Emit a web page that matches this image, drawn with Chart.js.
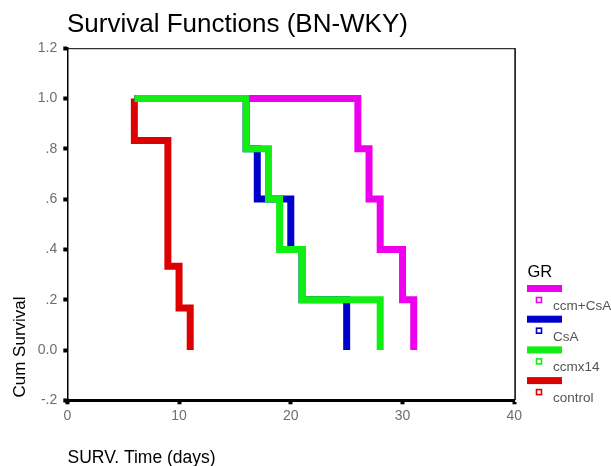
<!DOCTYPE html>
<html>
<head>
<meta charset="utf-8">
<script src="https://cdn.jsdelivr.net/npm/chart.js@4.4.1/dist/chart.umd.min.js"></script>
<style>
  html, body { margin: 0; padding: 0; background: #ffffff; }
  #wrap { width: 611px; height: 466px; position: relative; }
</style>
</head>
<body>
<div id="wrap"><canvas id="c" width="611" height="466"></canvas></div>
<script>
// ---- data ----
const chartTitle = 'Survival Functions (BN-WKY)';
const xAxisTitle = 'SURV. Time (days)';
const yAxisTitle = 'Cum Survival';
const legendTitle = 'GR';

const groups = ['ccm+CsA', 'CsA', 'ccmx14', 'control'];
const groupColors = ['#ee00ee', '#0000cc', '#11ee11', '#dd0000'];

const ccmCsaTimes = [6, 26, 27, 28, 30, 31];
const ccmCsaSurv  = [1.0, 0.8, 0.6, 0.4, 0.2, 0.0];

const csaTimes = [6, 16, 17, 20, 21, 25];
const csaSurv  = [1.0, 0.8, 0.6, 0.4, 0.2, 0.0];

const ccmx14Times = [6, 16, 18, 19, 21, 28];
const ccmx14Surv  = [1.0, 0.8, 0.6, 0.4, 0.2, 0.0];

const controlTimes = [6, 6, 9, 10, 11];
const controlSurv  = [1.0, 0.833, 0.333, 0.167, 0.0];

const xTickValues = [0, 10, 20, 30, 40];
const xTickLabels = ['0', '10', '20', '30', '40'];
const yTickValues = [-0.2, 0, 0.2, 0.4, 0.6, 0.8, 1.0, 1.2];
const yTickLabels = ['-.2', '0.0', '.2', '.4', '.6', '.8', '1.0', '1.2'];

// ---- build ----
function pts(t, s) { return t.map((v, i) => ({ x: v, y: s[i] })); }
const seriesTimes = [ccmCsaTimes, csaTimes, ccmx14Times, controlTimes];
const seriesSurv = [ccmCsaSurv, csaSurv, ccmx14Surv, controlSurv];
const drawOrder = [2, 1, 0, 3]; // lower = drawn on top

const FONT = '"Liberation Sans", Arial, sans-serif';

const datasets = groups.map((g, i) => ({
  label: g,
  data: pts(seriesTimes[i], seriesSurv[i]),
  borderColor: groupColors[i],
  backgroundColor: groupColors[i],
  borderWidth: 7,
  stepped: true,
  pointRadius: 0,
  fill: false,
  borderJoinStyle: 'miter',
  borderCapStyle: 'butt',
  order: drawOrder[i]
}));

const decorPlugin = {
  id: 'decor',
  afterDraw(chart) {
    const ctx = chart.ctx;
    const a = chart.chartArea;
    ctx.save();
    // top and right frame
    ctx.strokeStyle = '#000';
    ctx.lineWidth = 1;
    ctx.beginPath();
    ctx.moveTo(a.left, a.top + 0.5);
    ctx.lineTo(a.right + 1, a.top + 0.5);
    ctx.stroke();
    ctx.lineWidth = 1.5;
    ctx.beginPath();
    ctx.moveTo(a.right + 0.8, a.top);
    ctx.lineTo(a.right + 0.8, a.bottom);
    ctx.stroke();

    // title
    ctx.fillStyle = '#000';
    ctx.font = '26px ' + FONT;
    ctx.textAlign = 'left';
    ctx.textBaseline = 'alphabetic';
    ctx.fillText(chartTitle, 67, 31.7);

    // x axis title
    ctx.font = '17.5px ' + FONT;
    ctx.fillText(xAxisTitle, 67.5, 463);

    // y axis title
    ctx.save();
    ctx.translate(24.5, 397.5);
    ctx.rotate(-Math.PI / 2);
    ctx.font = '17px ' + FONT;
    ctx.fillText(yAxisTitle, 0, 0);
    ctx.restore();

    // legend
    ctx.font = '16.5px ' + FONT;
    ctx.fillStyle = '#000';
    ctx.fillText(legendTitle, 527.5, 277);
    const barTop = 288.5, step = 30.7;
    groups.forEach((g, i) => {
      const by = barTop + i * step;
      ctx.fillStyle = groupColors[i];
      ctx.fillRect(527, by - 3.5, 35, 7);
      const my = by + 11.5;
      ctx.strokeStyle = groupColors[i];
      ctx.lineWidth = 1.6;
      ctx.strokeRect(536.5, my - 2.5, 5, 5);
      ctx.fillStyle = '#555';
      ctx.font = '13.5px ' + FONT;
      ctx.fillText(g, 553, my + 10);
    });
    ctx.restore();
  }
};

new Chart(document.getElementById('c'), {
  type: 'line',
  data: { datasets },
  plugins: [decorPlugin],
  options: {
    responsive: false,
    animation: false,
    events: [],
    layout: { padding: { left: 0, right: 611 - 514.3, top: 48.2, bottom: 0 } },
    plugins: { legend: { display: false }, tooltip: { enabled: false }, title: { display: false } },
    scales: {
      x: {
        type: 'linear',
        min: 0, max: 40,
        afterFit(s) { s.height = 466 - 400.3; },
        afterBuildTicks(s) { s.ticks = xTickValues.map(v => ({ value: v })); },
        ticks: {
          callback: (v, i) => xTickLabels[i],
          color: '#6e6e6e',
          font: { family: FONT, size: 14 },
          padding: 3,
          maxRotation: 0
        },
        grid: { drawOnChartArea: false, drawTicks: true, tickLength: 4, tickWidth: 4, tickColor: '#000' },
        border: { display: true, color: '#000', width: 3 }
      },
      y: {
        type: 'linear',
        min: -0.2, max: 1.2,
        afterFit(s) { s.width = 67.3; },
        afterBuildTicks(s) { s.ticks = yTickValues.map(v => ({ value: v })); },
        ticks: {
          callback: (v, i) => yTickLabels[i],
          color: '#6e6e6e',
          font: { family: FONT, size: 14 },
          padding: 6
        },
        grid: { drawOnChartArea: false, drawTicks: true, tickLength: 4, tickWidth: 4, tickColor: '#000' },
        border: { display: true, color: '#000', width: 1.5 }
      }
    }
  }
});
</script>
</body>
</html>
